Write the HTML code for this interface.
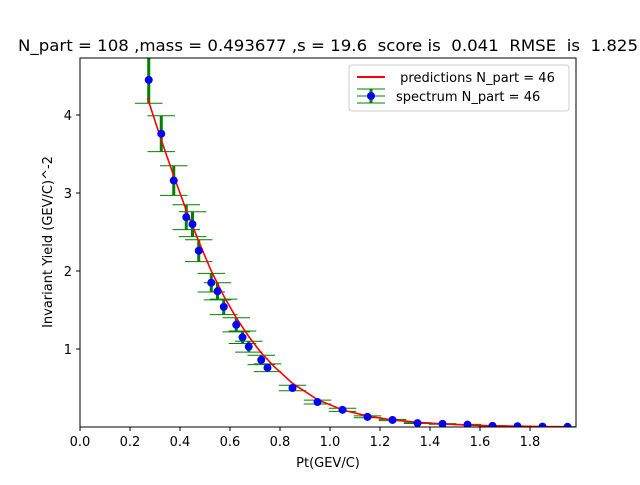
<!DOCTYPE html>
<html><head><meta charset="utf-8"><style>body{margin:0;background:#fff}svg{font-family:"DejaVu Sans","Liberation Sans",sans-serif}</style></head>
<body>
<svg id="c" width="640" height="480" xmlns="http://www.w3.org/2000/svg">
<rect width="640" height="480" fill="#fff"/>
<text x="328" y="51" font-size="16" text-anchor="middle" style="white-space:pre" xml:space="preserve" textLength="620" lengthAdjust="spacingAndGlyphs">N_part = 108 ,mass = 0.493677 ,s = 19.6  score is  0.041  RMSE  is  1.825</text>
<defs><clipPath id="clip"><rect x="80" y="58" width="496" height="369"/></clipPath></defs>
<g id="plot" clip-path="url(#clip)"></g>
<g id="axes"></g>
<rect x="80" y="58" width="496" height="369" fill="none" stroke="#000" stroke-width="1"/>
<text x="328" y="467" font-size="13" text-anchor="middle">Pt(GEV/C)</text>
<text transform="translate(52,242) rotate(-90)" font-size="13" text-anchor="middle">Invariant Yield (GEV/C)^-2</text>
<g>
<rect x="349" y="65" width="220" height="46" rx="3" fill="#fff" stroke="#ccc"/>
<line x1="357" y1="77" x2="385" y2="77" stroke="red" stroke-width="2"/>
<text x="396" y="82" font-size="13" style="white-space:pre" xml:space="preserve"> predictions N_part = 46</text>
<line x1="371" y1="89" x2="371" y2="103" stroke="green" stroke-width="3"/>
<line x1="357" y1="89" x2="385" y2="89" stroke="green"/><line x1="357" y1="103" x2="385" y2="103" stroke="green"/>
<line x1="357" y1="96" x2="385" y2="96" stroke="green"/>
<circle cx="371" cy="96" r="4" fill="blue"/>
<text x="396" y="101" font-size="13">spectrum N_part = 46</text>
</g>
</svg>
<script>
const xs=[0.275,0.325,0.375,0.425,0.45,0.475,0.525,0.55,0.575,0.625,0.65,0.675,0.725,0.75,0.85,0.95,1.05,1.15,1.25,1.35,1.45,1.55,1.65,1.75,1.85,1.95];
const ys=[4.45,3.76,3.16,2.69,2.6,2.26,1.85,1.74,1.54,1.31,1.15,1.03,0.86,0.76,0.5,0.32,0.22,0.13,0.09,0.05,0.04,0.03,0.015,0.01,0.005,0.003];
const yerr=[0.3,0.23,0.19,0.16,0.16,0.14,0.12,0.11,0.1,0.09,0.08,0.07,0.06,0.05,0.035,0.025,0.02,0.012,0.008,0.005,0.004,0.003,0.002,0.001,0.001,0.001];
const xerr=[0.055,0.055,0.055,0.055,0.055,0.055,0.055,0.055,0.055,0.055,0.055,0.055,0.055,0.055,0.055,0.055,0.055,0.055,0.055,0.055,0.055,0.055,0.055,0.055,0.055,0.055];
const px=[0.27,0.325,0.375,0.425,0.475,0.525,0.575,0.625,0.675,0.725,0.775,0.85,0.95,1.05,1.15,1.25,1.35,1.45,1.55,1.65,1.75,1.85,1.95];
const py=[4.22,3.68,3.22,2.78,2.38,2.0,1.68,1.40,1.16,0.95,0.78,0.56,0.35,0.22,0.14,0.09,0.06,0.04,0.025,0.015,0.01,0.006,0.004];
const xticks=[0,0.2,0.4,0.6,0.8,1.0,1.2,1.4,1.6,1.8];
const yticks=[1,2,3,4];
const X=v=>80+v*250, Y=v=>427-v*78;
const NS="http://www.w3.org/2000/svg";
function mk(t,a,p){const e=document.createElementNS(NS,t);for(const k in a)e.setAttribute(k,a[k]);p.appendChild(e);return e;}
const plot=document.getElementById('plot'), axes=document.getElementById('axes');
xs.forEach((x,i)=>{
  const g=mk('g',{},plot);
  
  
  mk('line',{x1:X(x),x2:X(x),y1:Y(ys[i]-yerr[i]),y2:Y(ys[i]+yerr[i]),stroke:'green','stroke-width':3},g);
  mk('line',{x1:X(x-xerr[i]),x2:X(x+xerr[i]),y1:Y(ys[i]-yerr[i]),y2:Y(ys[i]-yerr[i]),stroke:'green'},g);
  mk('line',{x1:X(x-xerr[i]),x2:X(x+xerr[i]),y1:Y(ys[i]+yerr[i]),y2:Y(ys[i]+yerr[i]),stroke:'green'},g);
});
const pl=mk('polyline',{points:px.map((x,i)=>X(x)+','+Y(py[i])).join(' '),fill:'none',stroke:'red','stroke-width':1.6},plot);


xs.forEach((x,i)=>{
  const c=mk('circle',{cx:X(x),cy:Y(ys[i]),r:4,fill:'blue'},plot);
  
  
});
xticks.forEach(t=>{
  mk('line',{x1:X(t),x2:X(t),y1:427,y2:431,stroke:'#000'},axes);
  const tx=mk('text',{x:X(t),y:446,'font-size':13,'text-anchor':'middle'},axes);
  tx.textContent=t.toFixed(1);
  
  
});
yticks.forEach(t=>{
  mk('line',{x1:76,x2:80,y1:Y(t),y2:Y(t),stroke:'#000'},axes);
  const tx=mk('text',{x:72,y:Y(t)+5,'font-size':13,'text-anchor':'end'},axes);
  tx.textContent=t;
  
  
});
</script>
</body></html>
